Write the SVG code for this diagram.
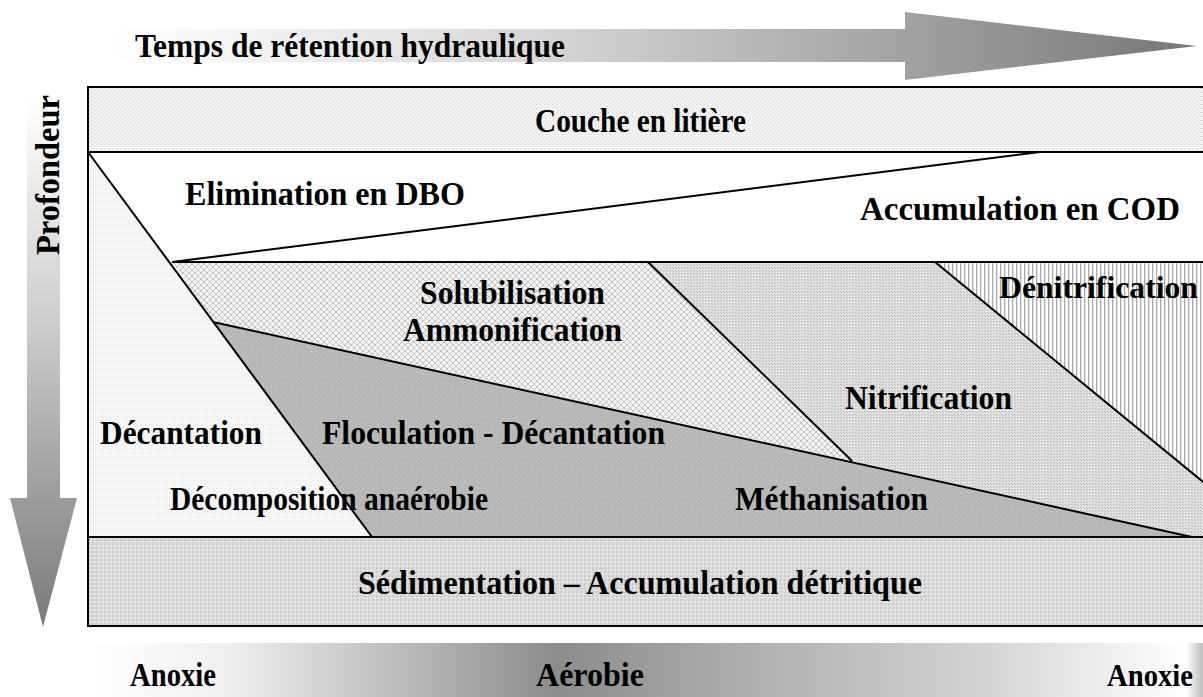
<svg xmlns="http://www.w3.org/2000/svg" width="1203" height="697" viewBox="0 0 1203 697">
<style>
.t{font-family:"Liberation Serif","Times New Roman",serif;font-weight:bold;font-size:34px;fill:#000}
.s{font-size:31px}
.ln{stroke:#000;stroke-width:2;fill:none}
</style>
<defs>
<linearGradient id="gTop" gradientUnits="userSpaceOnUse" x1="110" y1="0" x2="1195" y2="0">
<stop offset="0" stop-color="#ffffff"/><stop offset="0.4" stop-color="#d6d6d6"/><stop offset="1" stop-color="#777777"/>
</linearGradient>
<linearGradient id="gLeft" gradientUnits="userSpaceOnUse" x1="0" y1="95" x2="0" y2="627">
<stop offset="0" stop-color="#ffffff"/><stop offset="0.4" stop-color="#d0d0d0"/><stop offset="1" stop-color="#7a7a7a"/>
</linearGradient>
<linearGradient id="gBot" gradientUnits="userSpaceOnUse" x1="90" y1="0" x2="1203" y2="0">
<stop offset="0" stop-color="#ffffff"/><stop offset="0.12" stop-color="#f0f0f0"/><stop offset="0.42" stop-color="#8c8c8c"/><stop offset="0.6" stop-color="#b0b0b0"/><stop offset="0.8" stop-color="#d2d2d2"/><stop offset="0.985" stop-color="#ffffff"/><stop offset="1" stop-color="#bbbbbb"/>
</linearGradient>
<pattern id="pCouche" width="4" height="4" patternUnits="userSpaceOnUse">
<rect width="4" height="4" fill="#f3f3f3"/><rect x="0" y="0" width="1" height="1" fill="#cfcfcf"/><rect x="2" y="2" width="1" height="1" fill="#cfcfcf"/>
</pattern>
<pattern id="pDecant" width="4" height="4" patternUnits="userSpaceOnUse">
<rect width="4" height="4" fill="#f8f8f8"/><rect x="1" y="0" width="1" height="1" fill="#dcdcdc"/><rect x="3" y="2" width="1" height="1" fill="#e4e4e4"/>
</pattern>
<pattern id="pSolub" width="6" height="6" patternUnits="userSpaceOnUse">
<rect width="6" height="6" fill="#f2f2f2"/><path d="M0 0L6 6M6 0L0 6" stroke="#c4c4c4" stroke-width="1"/>
</pattern>
<pattern id="pNitri" width="3" height="3" patternUnits="userSpaceOnUse">
<rect width="3" height="3" fill="#dedede"/><rect x="0" y="0" width="1" height="1" fill="#b8b8b8"/><rect x="1" y="1" width="1" height="1" fill="#c4c4c4"/><rect x="2" y="2" width="1" height="1" fill="#eeeeee"/>
</pattern>
<pattern id="pDenit" width="4" height="4" patternUnits="userSpaceOnUse">
<rect width="4" height="4" fill="#ffffff"/><rect x="0" y="0" width="1.3" height="4" fill="#aaaaaa"/>
</pattern>
<pattern id="pFloc" width="5" height="5" patternUnits="userSpaceOnUse">
<rect width="5" height="5" fill="#b7b7b7"/><rect x="1" y="1" width="1" height="1" fill="#c8c8c8"/><rect x="3" y="3" width="1" height="1" fill="#c4c4c4"/>
</pattern>
<pattern id="pSed" width="4" height="4" patternUnits="userSpaceOnUse">
<rect width="4" height="4" fill="#d9d9d9"/><rect x="0" y="0" width="1" height="1" fill="#bdbdbd"/><rect x="2" y="1" width="1" height="1" fill="#ececec"/><rect x="1" y="3" width="1" height="1" fill="#c4c4c4"/><rect x="3" y="2" width="1" height="1" fill="#f0f0f0"/>
</pattern>
</defs>
<rect width="1203" height="697" fill="#ffffff"/>

<g id="axis-time">
<polygon points="110,29 905,29 905,12 1197,46 905,80 905,62 110,62" fill="url(#gTop)"/>
<text class="t" x="135" y="57" textLength="430" lengthAdjust="spacingAndGlyphs">Temps de rétention hydraulique</text>
</g>

<g id="axis-depth">
<polygon points="27,95 60,95 60,498 77,498 43,627 10,498 27,498" fill="url(#gLeft)"/>
<text class="t" transform="translate(59,255) rotate(-90)" textLength="160" lengthAdjust="spacingAndGlyphs">Profondeur</text>
</g>

<g id="axis-oxygen">
<rect x="90" y="643" width="1113" height="54" fill="url(#gBot)"/>
<text class="t" x="130" y="686" textLength="86" lengthAdjust="spacingAndGlyphs">Anoxie</text>
<text class="t" x="536" y="686" textLength="108" lengthAdjust="spacingAndGlyphs">Aérobie</text>
<text class="t s" x="1107" y="686" textLength="86" lengthAdjust="spacingAndGlyphs">Anoxie</text>
</g>

<g id="couche">
<rect x="88" y="87" width="1120" height="65" fill="url(#pCouche)"/>
<text class="t" x="535" y="132" textLength="211" lengthAdjust="spacingAndGlyphs">Couche en litière</text>
</g>

<g id="elimination">
<polygon points="88,152 1208,152 1208,262 172,262" fill="#ffffff"/>
<text class="t" x="185" y="205" textLength="280" lengthAdjust="spacingAndGlyphs">Elimination en DBO</text>
</g>

<g id="accumulation">
<text class="t" x="860" y="220" textLength="320" lengthAdjust="spacingAndGlyphs">Accumulation en COD</text>
</g>

<g id="decantation">
<polygon points="88,152 372,537 88,537" fill="url(#pDecant)"/>
<text class="t" x="100" y="444" textLength="162" lengthAdjust="spacingAndGlyphs">Décantation</text>
</g>

<g id="solubilisation">
<polygon points="172,262 648,262 852,461 213,322" fill="url(#pSolub)"/>
<text class="t" x="420" y="304" textLength="185" lengthAdjust="spacingAndGlyphs">Solubilisation</text>
<text class="t" x="403" y="341" textLength="219" lengthAdjust="spacingAndGlyphs">Ammonification</text>
</g>

<g id="nitrification">
<polygon points="648,262 935,262 1208,486 1208,537 1192,537 852,461" fill="url(#pNitri)"/>
<text class="t" x="845" y="409" textLength="167" lengthAdjust="spacingAndGlyphs">Nitrification</text>
</g>

<g id="denitrification">
<polygon points="935,262 1208,262 1208,486" fill="url(#pDenit)"/>
<text class="t s" x="999" y="298" textLength="199" lengthAdjust="spacingAndGlyphs">Dénitrification</text>
</g>

<g id="floculation">
<polygon points="213,322 1192,537 372,537" fill="url(#pFloc)"/>
<text class="t" x="322" y="444" textLength="343" lengthAdjust="spacingAndGlyphs">Floculation - Décantation</text>
<text class="t" x="735" y="510" textLength="193" lengthAdjust="spacingAndGlyphs">Méthanisation</text>
</g>

<g id="decomposition">
<text class="t" x="170" y="510" textLength="318" lengthAdjust="spacingAndGlyphs">Décomposition anaérobie</text>
</g>

<g id="sedimentation">
<rect x="88" y="537" width="1120" height="89" fill="url(#pSed)"/>
<text class="t" x="358" y="594" textLength="564" lengthAdjust="spacingAndGlyphs">Sédimentation – Accumulation détritique</text>
</g>

<g id="connectors">
<rect x="88" y="87" width="1125" height="539" class="ln"/>
<line x1="88" y1="152" x2="1208" y2="152" class="ln"/>
<line x1="88" y1="537" x2="1208" y2="537" class="ln"/>
<line x1="88" y1="152" x2="372" y2="537" class="ln"/>
<line x1="172" y1="262" x2="1208" y2="262" class="ln"/>
<line x1="172" y1="262" x2="1040" y2="152" class="ln"/>
<line x1="213" y1="322" x2="1192" y2="537" class="ln"/>
<line x1="648" y1="262" x2="852" y2="461" class="ln"/>
<line x1="935" y1="262" x2="1208" y2="486" class="ln"/>
</g>
</svg>
